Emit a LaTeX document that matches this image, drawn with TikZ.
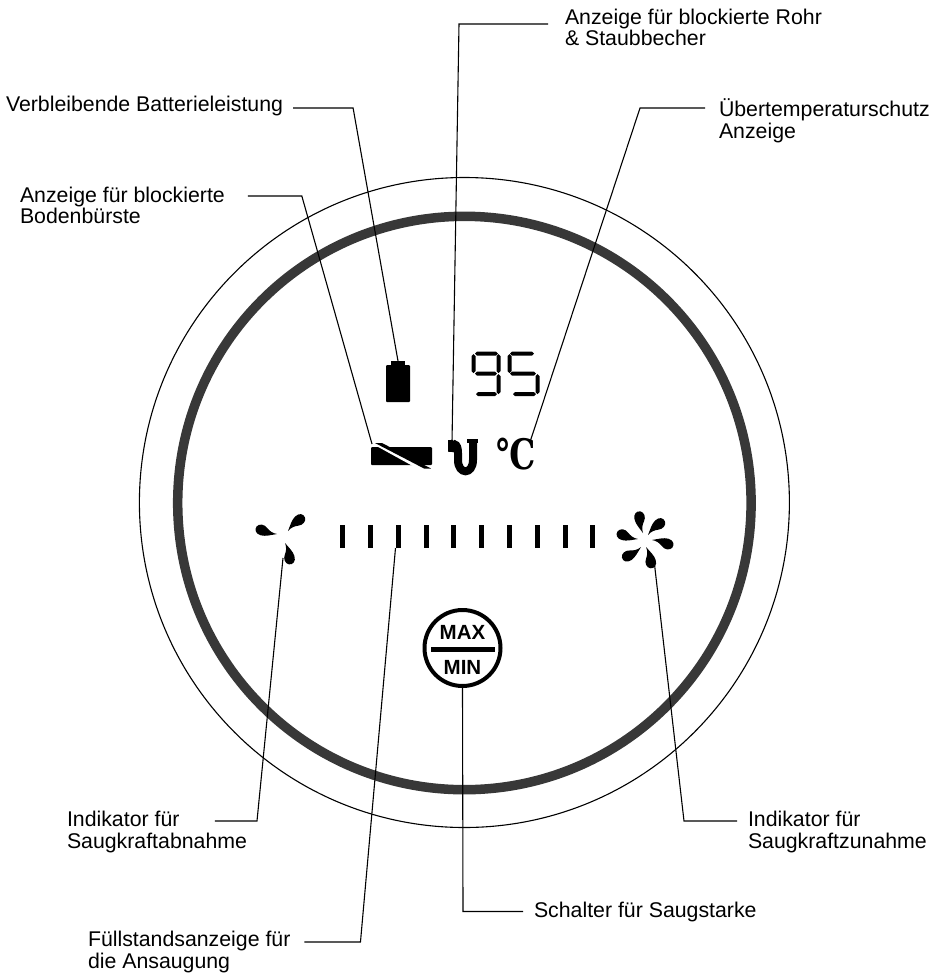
\documentclass[tikz,border=0pt]{standalone}
\usepackage{fontspec}
\setmainfont{Liberation Sans}
\newfontfamily\degreefont{DejaVu Serif}

\tikzstyle{leader} = [line width=1.1pt]
\tikzstyle{label} = [inner sep=0pt, outer sep=0pt, align=left, font=\fontsize{21.3}{21.6}\selectfont]
\tikzstyle{solid box} = [fill=black, inner sep=0pt, outer sep=0pt]
\tikzstyle{switch text} = [inner sep=0pt, font=\fontsize{20.5}{20.5}\selectfont\bfseries]

\tikzset{
  petal/.pic={
    \fill [black] (0,0) .. controls (7,-3) and (13,-6.5) .. (19,-6.5)
      .. controls (26,-6.5) and (29,-1.5) .. (27,3)
      .. controls (25,7.5) and (18,8) .. (14,4.5)
      .. controls (10,1.5) and (6,-0.5) .. (0,0);
  }
}
% one hexagonal segment of the display: x1, x2, y
\newcommand{\seghor}[3]{\fill (#1,#3) -- (#1+2,#3-2) -- (#2-2,#3-2) -- (#2,#3) -- (#2-2,#3+2) -- (#1+2,#3+2) -- cycle;}
\newcommand{\segver}[3]{\fill (#3,#1) -- (#3+2,#1+2) -- (#3+2,#2-2) -- (#3,#2) -- (#3-2,#2-2) -- (#3-2,#1+2) -- cycle;}

\begin{document}
\begin{tikzpicture}[x=1pt,y=-1pt]
\useasboundingbox (0,0) rectangle (943,978);

% rings
\draw [line width=1.1pt] (464.4,502.5) circle (325);
\draw [line width=9.5pt, color=black!78] (464.4,503) circle (286.7);

% labels
\node (batlabel) [label, anchor=west] at (6,105.5) {Verbleibende Batterieleistung};
\node (brushlabel) [label, anchor=west] at (20,205.5) {Anzeige für blockierte\\Bodenbürste};
\node (pipelabel) [label, anchor=west] at (565,27.5) {Anzeige für blockierte Rohr\\\& Staubbecher};
\node (heatlabel) [label, anchor=west] at (719,121) {Übertemperaturschutz\\Anzeige};
\node (lowlabel) [label, anchor=west] at (67,832) {Indikator für\\Saugkraftabnahme};
\node (highlabel) [label, anchor=west] at (748,832) {Indikator für\\Saugkraftzunahme};
\node (filllabel) [label, anchor=west] at (88,952) {Füllstandsanzeige für\\die Ansaugung};
\node (swlabel) [label, anchor=west] at (534,911.5) {Schalter für Saugstarke};

% battery
\node (batbody) [solid box, rounded corners=1pt, minimum width=24pt, minimum height=37pt] at (398,383.5) {};
\node (batcap) [solid box, minimum width=14pt, minimum height=6pt] at (398,364) {};

% display
\segver{354}{373}{473.5}
\seghor{475}{498}{353.5}
\segver{354}{373}{498.5}
\seghor{475}{497}{373.5}
\segver{374}{394}{498.5}
\seghor{476}{497}{394}
\seghor{510}{534}{353.5}
\segver{354}{373}{509.5}
\seghor{510}{536}{373.5}
\segver{374}{394}{537.5}
\seghor{513}{536}{394}

% brush
\node (brushbody) [solid box, rounded corners=1pt, minimum width=61pt, minimum height=18pt] at (401.5,456) {};
\fill [white] (371,443) -- (379,443) -- (432,470) -- (420,470) -- cycle;
\fill [black] (375,443) -- (382,443) -- (431,468.5) -- (424,468.5) -- cycle;

% pipe
\draw [line width=8pt] (452,452) .. controls (452,442) and (458,442) .. (458,453) -- (458,460)
  .. controls (458,475) and (473,475) .. (473,460) -- (473,441);
\fill (448,440) rectangle (453,451);
\fill (467,439) rectangle (478,443);

% degrees
\node (degree) [inner sep=0pt, xscale=0.78] at (516,454.5) {\fontsize{42}{42}\selectfont\degreefont\bfseries ℃};

% fans
\pic [scale=0.8, rotate=166] at (277,534) {petal};
\pic [scale=0.8, rotate=45] at (288,531) {petal};
\pic [scale=0.8, rotate=-73] at (285,543) {petal};
\foreach \x/\y/\a in {643/533/103, 648/535/45, 652/540/-14, 646/547/-72, 641/547/-145, 638/539/165}
  \pic [scale=0.8, rotate=\a] at (\x,\y) {petal};

% level bars
\foreach \i/\x in {1/342.5,2/370,3/398,4/426,5/453,6/481,7/509,8/537,9/565,10/592}
  \node (bar\i) [solid box, minimum width=5pt, minimum height=23pt] at (\x,536.5) {};

% switch
\node (swbtn) [circle, draw, line width=4pt, minimum size=76pt, inner sep=0pt, outer sep=1pt] at (462.5,648) {};
\node (swmax) [switch text] at (462.5,632) {MAX};
\node (swmin) [switch text] at (462.5,667) {MIN};
\node (swbar) [solid box, minimum width=64pt, minimum height=5pt] at (462.5,649) {};

% free ends on the icons
\coordinate (brushend) at (372,444);
\coordinate (pipeend) at (452,442);
\coordinate (heatend) at (530,442);
\coordinate (lowend) at (283,558);
\coordinate (highend) at (654,560);

% connectors
\draw [leader] ([shift={(10,2.5)}]batlabel.east) -- ++(60,0) -- (batcap.north);
\draw [leader] ([shift={(23,-9.5)}]brushlabel.east) -- ++(54,0) -- (brushend);
\draw [leader] ([shift={(-17,-3.5)}]pipelabel.west) -- ++(-89,0) -- (pipeend);
\draw [leader] ([shift={(-14,-13)}]heatlabel.west) -- ++(-65,0) -- (heatend);
\draw [leader] ([shift={(-32,-11)}]lowlabel.east) -- ++(42,0) -- (lowend);
\draw [leader] ([shift={(-11,-11)}]highlabel.west) -- ++(-53,0) -- (highend);
\draw [leader] ([shift={(14,-10)}]filllabel.east) -- ++(56,0) -- (bar3.south west);
\draw [leader] ([shift={(-11,0)}]swlabel.west) -- ++(-60,0) -- (swbtn.south);

\end{tikzpicture}
\end{document}
